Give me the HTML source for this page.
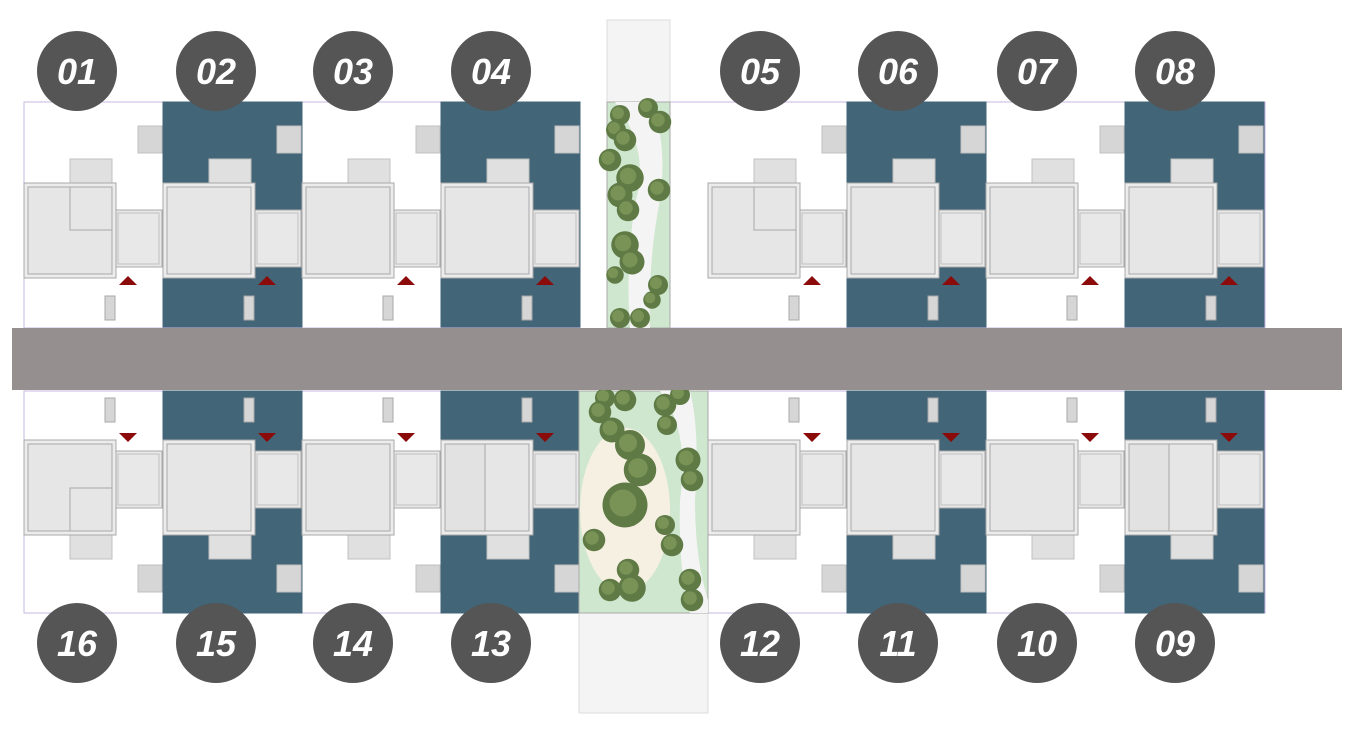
<!DOCTYPE html>
<html><head><meta charset="utf-8"><style>
html,body{margin:0;padding:0;background:#fff;width:1353px;height:730px;overflow:hidden}
svg{display:block}
</style></head><body>
<svg id="s" width="1353" height="730" xmlns="http://www.w3.org/2000/svg">
<rect x="607" y="20" width="63" height="82" fill="#f4f4f4" stroke="#ddd"/>
<rect x="579" y="613" width="129" height="100" fill="#f4f4f4" stroke="#ddd"/>
<rect x="24" y="102" width="556" height="226" fill="#fff" stroke="#c7b8e0" stroke-width="1"/>
<rect x="670" y="102" width="595" height="226" fill="#fff" stroke="#c7b8e0" stroke-width="1"/>
<rect x="24" y="391" width="556" height="222" fill="#fff" stroke="#c7b8e0" stroke-width="1"/>
<rect x="708" y="391" width="557" height="222" fill="#fff" stroke="#c7b8e0" stroke-width="1"/>
<g id="g"></g>
<rect x="12" y="328" width="1330" height="62" fill="#958f8f"/>
</svg>
<script>
var g=document.getElementById('g'),h='';
function R(x,y,w,hh,f,s){h+='<rect x="'+x+'" y="'+y+'" width="'+w+'" height="'+hh+'" fill="'+f+'" stroke="'+(s||'#b0b0b0')+'" stroke-width="1"/>';}
var B='#426577';
function plot(x0,top,blue,kind){
 if(blue) (top?R(x0,102,139,225,B,B):R(x0,391,139,222,B,B));
 function Y(y,hh){return top?y:(718-y-hh);}
 R(x0+114,Y(126,27),24,27,'#d6d6d6','#c0c0c0');
 R(x0+46,Y(159,24),42,24,'#e0e0e0','#c0c0c0');
 R(x0+91,Y(210,57),47,57,'#e8e8e8','#a8a8a8');
 R(x0+91+3,Y(213,51),41,51,'#e8e8e8','#c0c0c0');
 R(x0,Y(183,95),92,95,'#ececec','#a8a8a8');
 R(x0+4,Y(187,87),84,87,'#e6e6e6','#a8a8a8');
 if(kind==1){R(x0+46,Y(187,43),42,43,'#e6e6e6','#a8a8a8');}
 if(kind==2){R(x0+4,Y(187,87),40,87,'#e2e2e2','#a8a8a8');}
 R(x0+81,Y(296,24),10,24,'#d6d6d6','#a8a8a8');
 var tx=x0+104;
 if(top) h+='<polygon points="'+(tx-9)+',285 '+(tx+9)+',285 '+tx+',276" fill="#8b0a0a"/>';
 else h+='<polygon points="'+(tx-9)+',433 '+(tx+9)+',433 '+tx+',442" fill="#8b0a0a"/>';
}
plot(24,1,0,1);plot(163,1,1,0);plot(302,1,0,0);plot(441,1,1,0);
plot(708,1,0,1);plot(847,1,1,0);plot(986,1,0,0);plot(1125,1,1,0);
plot(24,0,0,1);plot(163,0,1,0);plot(302,0,0,0);plot(441,0,1,2);
plot(708,0,0,0);plot(847,0,1,0);plot(986,0,0,0);plot(1125,0,1,2);
h+='<rect x="607" y="102" width="63" height="226" fill="#cfe6cf" stroke="#aaa"/>';
h+='<path d="M615,102 Q650,150 636,200 Q625,260 630,328 L650,328 Q648,260 660,200 Q668,140 650,102Z" fill="#f4f4f4"/>';
h+='<rect x="579" y="391" width="129" height="222" fill="#cfe6cf" stroke="#aaa"/>';
h+='<path d="M660,391 Q690,430 680,500 Q678,570 690,613 L708,613 L708,600 Q695,560 695,500 Q700,430 690,391Z" fill="#f4f4f4"/>';
h+='<ellipse cx="625" cy="510" rx="45" ry="82" fill="#f6f0e2"/>';
var trees=[[620,115,8],[616,130,8],[625,140,9],[648,108,8],[660,122,9],[610,160,9],[630,178,11],[620,195,10],[628,210,9],[659,190,9],[625,245,11],[632,262,10],[615,275,7],[658,285,8],[652,300,7],[640,318,8],[620,318,8],[605,398,8],[600,412,9],[625,400,9],[612,430,10],[630,445,12],[640,470,13],[625,505,18],[594,540,9],[628,570,9],[610,590,9],[632,588,11],[665,405,9],[680,395,8],[667,425,8],[688,460,10],[692,480,9],[665,525,8],[672,545,9],[690,580,9],[692,600,9]];
trees.forEach(function(t){var r=t[2]*1.25;h+='<circle cx="'+t[0]+'" cy="'+t[1]+'" r="'+r+'" fill="#5f7a45"/><circle cx="'+(t[0]-2)+'" cy="'+(t[1]-2)+'" r="'+(r*0.6)+'" fill="#7f9a5a" opacity="0.8"/>';});
var cx=[77,216,353,491,760,898,1037,1175],lt=['01','02','03','04','05','06','07','08'],lb=['16','15','14','13','12','11','10','09'];
for(var i=0;i<8;i++){
 h+='<circle cx="'+cx[i]+'" cy="71" r="40" fill="#555"/><text x="'+cx[i]+'" y="84" text-anchor="middle" font-family="Liberation Sans,sans-serif" font-weight="bold" font-style="italic" font-size="36" fill="#fff">'+lt[i]+'</text>';
 h+='<circle cx="'+cx[i]+'" cy="643" r="40" fill="#555"/><text x="'+cx[i]+'" y="656" text-anchor="middle" font-family="Liberation Sans,sans-serif" font-weight="bold" font-style="italic" font-size="36" fill="#fff">'+lb[i]+'</text>';
}
g.innerHTML=h;
</script>
</body></html>
